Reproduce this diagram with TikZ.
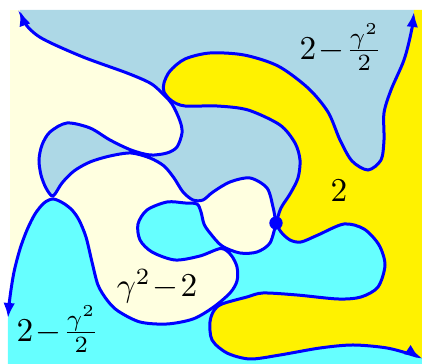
\documentclass[tikz,border=0pt]{standalone}
\usepackage{amsmath}
\usepackage{tikz}
\usetikzlibrary{arrows.meta}

\definecolor{lightblue}{RGB}{173,216,230}
\definecolor{lightyellow}{RGB}{255,255,224}
\definecolor{lightcyan}{RGB}{102,255,255}

%% the four flow lines out of the marked point (pixel units, y down)
\newcommand{\flowTL}{plot[smooth] coordinates {
    (276,223) (273,207) (267,188) (250,178) (230,182) (213,192) (203,200)
    (193,200) (183,192) (174,178) (164,166) (150,158) (131,153) (110,156)
    (90,162) (74,171) (62,183) (53,196) (46,188) (41,175) (39,160) (42,145)
    (50,132) (67,123) (90,128) (110,140) (131,150) (150,155) (167,153)
    (177,147) (182,133) (180,121) (172,104) (161,92) (150,83) (127,73)
    (83,57) (43,39) (27,26) (20,11)}}
\newcommand{\flowTR}{plot[smooth] coordinates {
    (414,12) (411,33) (404,60) (391,90) (384,113) (384,140) (381,160)
    (368,170) (352,161) (340,140) (328,112) (308,88) (278,66) (244,55)
    (210,53) (185,59) (170,71) (164,83) (164,92) (172,101) (185,106)
    (217,106) (248,110) (280,125) (295,143) (300,160) (298,178) (290,194)
    (281,208) (276,223)}}
\newcommand{\flowBR}{plot[smooth] coordinates {
    (276,223) (281,232) (290,240) (301,242) (318,235) (344,224) (364,229)
    (379,245) (385,265) (378,287) (361,297) (338,299) (297,295) (263,293)
    (247,297) (222,304) (214,310.5) (210,322) (212,340) (227,353) (250,359)
    (280,355) (320,348) (353,345) (387,348) (413,355) (420,358)}}
\newcommand{\flowBL}{plot[smooth] coordinates {
    (8,318) (10,297) (14,272) (20,249) (27,230) (35,214) (44,203) (53,199)
    (63,203) (72,210) (79,220) (86,237) (92,262) (98,285) (107,300)
    (118,311) (140,322) (167,324) (193,319) (213,307.5) (230,293) (237,281)
    (237,267) (231,255) (221,248.5) (200,256) (175,260) (152,252) (140,240)
    (138,224) (147,210) (167,202) (185,203) (197,204) (201,212) (204,224)
    (210,233) (222,246) (240,253) (257,252) (270,243) (276,223)}}

%% closed regions built from the flow lines
\edef\regionTop{\flowTL -- (20,10) -- (414,10) -- \flowTR -- cycle}
\edef\regionRight{\flowTR -- \flowBR -- (422,358) -- (422,10) -- (414,10) -- cycle}
\edef\regionBottom{\flowBR -- (422,358) -- (422,364) -- (8,364) -- \flowBL -- cycle}

\begin{document}
\begin{tikzpicture}[
    x=0.3pt, y=-0.3pt,
    flow/.style    = {draw=blue, line width=0.9pt},
    flowend/.style = {flow, -{Latex[length=4.5pt,width=3.5pt]}},
    flowbeg/.style = {flow, {Latex[length=4.5pt,width=3.5pt]}-},
    weight/.style  = {font=\normalsize, inner sep=1pt}
]
\useasboundingbox (0,0) rectangle (422,364);

%% ---- regions ----
\fill[lightyellow] (10,10) rectangle (422,364);
\fill[lightblue] \regionTop;
\fill[yellow]    \regionRight;
\fill[lightcyan] \regionBottom;

%% ---- flow lines ----
\draw[flowend] \flowTL;
\draw[flowbeg] \flowTR;
\draw[flowend] \flowBR;
\draw[flowbeg] \flowBL;

\coordinate (origin) at (276,223);
\fill[blue] (origin) circle[radius=2pt];

%% ---- labels ----
\node[weight] (wTop)    at (341,47)  {$2\!-\!\frac{\gamma^2}{2}$};
\node[weight] (wRight)  at (339,191) {$2$};
\node[weight] (wLeft)   at (157,286) {$\gamma^2\!-\!2$};
\node[weight] (wBottom) at (58,329)  {$2\!-\!\frac{\gamma^2}{2}$};

\end{tikzpicture}
\end{document}
